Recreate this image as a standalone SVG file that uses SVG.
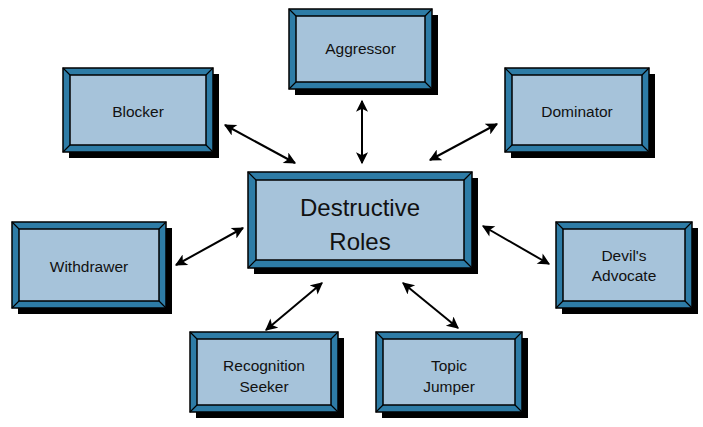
<svg xmlns="http://www.w3.org/2000/svg" width="703" height="427" viewBox="0 0 703 427">
<defs>
<style>
.sh{fill:#000}
.out{fill:#2E7CA6;stroke:#000;stroke-width:1.5}
.in{fill:#A6C3DA;stroke:#000;stroke-width:1.5}
.dg{stroke:#000;stroke-width:1.2}
.t{font-family:"Liberation Sans",Arial,sans-serif;font-size:15.5px;fill:#111;text-anchor:middle}
.tb{font-family:"Liberation Sans",Arial,sans-serif;font-size:24px;fill:#111;text-anchor:middle}
.ar{stroke:#000;stroke-width:2;fill:none;marker-start:url(#ah);marker-end:url(#ah)}
</style>
<marker id="ah" viewBox="0 0 10 10" refX="9" refY="5" markerWidth="13" markerHeight="12" markerUnits="userSpaceOnUse" orient="auto-start-reverse">
<path d="M0,0 L10,5 L0,10 L2.5,5 Z" fill="#000"/>
</marker>
</defs>
<rect width="703" height="427" fill="#fff"/>
<g id="connectors">
<line class="ar" x1="225" y1="125" x2="295" y2="163"/>
<line class="ar" x1="362" y1="101" x2="362" y2="163"/>
<line class="ar" x1="497" y1="124" x2="430" y2="160"/>
<line class="ar" x1="176" y1="265" x2="243" y2="228"/>
<line class="ar" x1="483" y1="226" x2="549" y2="264"/>
<line class="ar" x1="266" y1="330" x2="322" y2="283"/>
<line class="ar" x1="403" y1="283" x2="458" y2="328"/>
</g>
<g id="blocker">
<rect class="sh" x="69" y="74" width="150" height="84"/>
<rect class="out" x="63" y="68" width="150" height="84"/>
<rect class="in" x="70" y="75" width="136" height="70"/>
<path class="dg" d="M63,68L70,75M213,68L206,75M63,152L70,145M213,152L206,145"/>
<text class="t" x="138" y="117">Blocker</text>
</g>
<g id="aggressor">
<rect class="sh" x="295" y="15" width="143" height="80"/>
<rect class="out" x="289" y="9" width="143" height="80"/>
<rect class="in" x="296" y="16" width="129" height="66"/>
<path class="dg" d="M289,9L296,16M432,9L425,16M289,89L296,82M432,89L425,82"/>
<text class="t" x="360.5" y="54">Aggressor</text>
</g>
<g id="dominator">
<rect class="sh" x="511" y="74" width="144" height="84"/>
<rect class="out" x="505" y="68" width="144" height="84"/>
<rect class="in" x="512" y="75" width="130" height="70"/>
<path class="dg" d="M505,68L512,75M649,68L642,75M505,152L512,145M649,152L642,145"/>
<text class="t" x="577" y="117">Dominator</text>
</g>
<g id="destructive-roles">
<rect class="sh" x="254" y="178" width="224" height="96"/>
<rect class="out" x="248" y="172" width="224" height="96"/>
<rect class="in" x="256" y="180" width="208" height="80"/>
<path class="dg" d="M248,172L256,180M472,172L464,180M248,268L256,260M472,268L464,260"/>
<text class="tb" x="360" y="216">Destructive</text>
<text class="tb" x="360" y="250">Roles</text>
</g>
<g id="withdrawer">
<rect class="sh" x="18" y="228" width="154" height="86"/>
<rect class="out" x="12" y="222" width="154" height="86"/>
<rect class="in" x="19" y="229" width="140" height="72"/>
<path class="dg" d="M12,222L19,229M166,222L159,229M12,308L19,301M166,308L159,301"/>
<text class="t" x="89" y="272">Withdrawer</text>
</g>
<g id="devils-advocate">
<rect class="sh" x="562" y="228" width="136" height="86"/>
<rect class="out" x="556" y="222" width="136" height="86"/>
<rect class="in" x="563" y="229" width="122" height="72"/>
<path class="dg" d="M556,222L563,229M692,222L685,229M556,308L563,301M692,308L685,301"/>
<text class="t" x="624" y="261">Devil's</text>
<text class="t" x="624" y="281">Advocate</text>
</g>
<g id="recognition-seeker">
<rect class="sh" x="196" y="338" width="148" height="80"/>
<rect class="out" x="190" y="332" width="148" height="80"/>
<rect class="in" x="197" y="339" width="134" height="66"/>
<path class="dg" d="M190,332L197,339M338,332L331,339M190,412L197,405M338,412L331,405"/>
<text class="t" x="264" y="371">Recognition</text>
<text class="t" x="264" y="392">Seeker</text>
</g>
<g id="topic-jumper">
<rect class="sh" x="382" y="338" width="146" height="80"/>
<rect class="out" x="376" y="332" width="146" height="80"/>
<rect class="in" x="383" y="339" width="132" height="66"/>
<path class="dg" d="M376,332L383,339M522,332L515,339M376,412L383,405M522,412L515,405"/>
<text class="t" x="449" y="371">Topic</text>
<text class="t" x="449" y="392">Jumper</text>
</g>
</svg>
